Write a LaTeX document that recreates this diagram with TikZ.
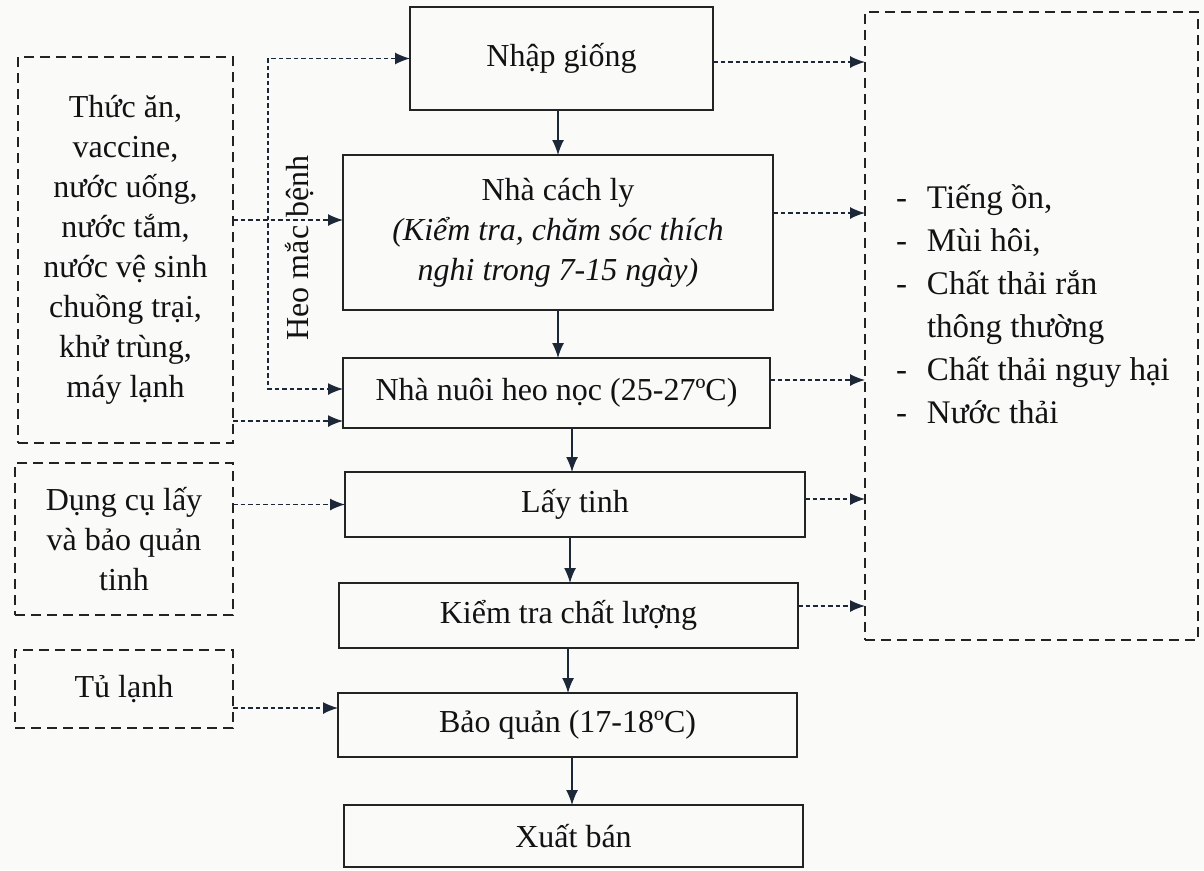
\documentclass[tikz,border=0pt]{standalone}
\usepackage{fontspec}
\setmainfont{Liberation Serif}
\usetikzlibrary{arrows.meta}
\definecolor{navy}{RGB}{28,40,56}
\definecolor{boxc}{RGB}{35,35,35}
\definecolor{bgc}{RGB}{250,250,249}
\definecolor{txt}{RGB}{18,18,18}
\begin{document}
\begin{tikzpicture}[x=1pt,y=-1pt,
  mainbox/.style={draw=boxc, line width=2.3pt, inner sep=0pt, outer sep=0pt, align=center, text=txt, font=\fontsize{32}{40}\selectfont},
  dbox/.style={draw=boxc, line width=2.3pt, dash pattern=on 10pt off 6pt, inner sep=0pt, outer sep=0pt, align=center, text=txt, font=\fontsize{32}{40}\selectfont},
  lbl/.style={inner sep=0pt, outer sep=0pt, text=txt, font=\fontsize{32}{40}\selectfont},
  tip/.tip={Latex[length=15pt,width=12pt]},
  conn/.style={draw=navy, line width=1.4pt, dash pattern=on 4.5pt off 3pt, -tip},
  flow/.style={draw=navy, line width=1.4pt, -tip},
]
\fill[bgc] (0,0) rectangle (1204,870);
\useasboundingbox (0,0) rectangle (1204,870);

% main column
\node[mainbox, minimum width=303pt, minimum height=103pt] (nhap) at (561.5,58.5) {Nhập giống};
\node[mainbox, minimum width=430pt, minimum height=155pt] (cachly) at (558,232.5) {Nhà cách ly\\\textit{(Kiểm tra, chăm sóc thích}\\\textit{nghi trong 7-15 ngày)}};
\node[mainbox, minimum width=427pt, minimum height=70pt] (nuoi) at (556.5,393) {Nhà nuôi heo nọc (25-27ºC)};
\node[mainbox, minimum width=460pt, minimum height=65pt] (laytinh) at (575,504.5) {Lấy tinh};
\node[mainbox, minimum width=459pt, minimum height=65pt] (kiemtra) at (568.5,615.5) {Kiểm tra chất lượng};
\node[mainbox, minimum width=459pt, minimum height=64pt] (baoquan) at (567.5,725) {Bảo quản (17-18ºC)};
\node[mainbox, minimum width=459pt, minimum height=62pt] (xuatban) at (573.5,836) {Xuất bán};

% left dashed boxes
\node[dbox, minimum width=215pt, minimum height=386pt] (inputs) at (125.5,250) {Thức ăn,\\vaccine,\\nước uống,\\nước tắm,\\nước vệ sinh\\chuồng trại,\\khử trùng,\\máy lạnh};
\node[dbox, minimum width=218pt, minimum height=152pt] (dungcu) at (124,539) {Dụng cụ lấy\\và bảo quản\\tinh};
\node[dbox, minimum width=218pt, minimum height=78pt] (tulanh) at (124,689) {Tủ lạnh};

% right dashed box
\node[dbox, minimum width=333pt, minimum height=628pt] (outbox) at (1031.5,326) {};
\node[lbl, anchor=west, font=\fontsize{33}{43}\selectfont] (outtext) at (896,307) {\begin{tabular}{@{}l@{\hspace{20pt}}l@{}}-&Tiếng ồn,\\-&Mùi hôi,\\-&Chất thải rắn\\&thông thường\\-&Chất thải nguy hại\\-&Nước thải\end{tabular}};

% rotated label
\node[lbl, rotate=90] (heo) at (300,248) {Heo mắc bệnh};

% helper coordinates
\coordinate (hbt) at (268,58.5);
\coordinate (hbb) at (268,389);
\coordinate (y220) at (0,220);
\coordinate (y421) at (0,421);
\coordinate (y708) at (0,708);
\coordinate (y62) at (0,62);
\coordinate (y213) at (0,213);
\coordinate (y380) at (0,380);
\coordinate (y499) at (0,499);
\coordinate (y606) at (0,606);
\coordinate (ax1) at (558,0);
\coordinate (ax2) at (558,0);
\coordinate (ax3) at (572,0);
\coordinate (ax4) at (570,0);
\coordinate (ax5) at (568,0);
\coordinate (ax6) at (572,0);

% flow arrows
\draw[flow] (nhap.south -| ax1) -- (cachly.north -| ax1);
\draw[flow] (cachly.south -| ax2) -- (nuoi.north -| ax2);
\draw[flow] (nuoi.south -| ax3) -- (laytinh.north -| ax3);
\draw[flow] (laytinh.south -| ax4) -- (kiemtra.north -| ax4);
\draw[flow] (kiemtra.south -| ax5) -- (baoquan.north -| ax5);
\draw[flow] (baoquan.south -| ax6) -- (xuatban.north -| ax6);

% input connectors
\draw[conn, tip-tip] (nhap.west) -- (hbt) -- (hbb) -- (nuoi.west |- hbb);
\draw[conn] (inputs.east |- y220) -- (cachly.west |- y220);
\draw[conn] (inputs.east |- y421) -- (nuoi.west |- y421);
\draw[conn] (dungcu.east |- laytinh.west) -- (laytinh.west);
\draw[conn] (tulanh.east |- y708) -- (baoquan.west |- y708);

% output connectors
\draw[conn] (nhap.east |- y62) -- (outbox.west |- y62);
\draw[conn] (cachly.east |- y213) -- (outbox.west |- y213);
\draw[conn] (nuoi.east |- y380) -- (outbox.west |- y380);
\draw[conn] (laytinh.east |- y499) -- (outbox.west |- y499);
\draw[conn] (kiemtra.east |- y606) -- (outbox.west |- y606);
\end{tikzpicture}
\end{document}
